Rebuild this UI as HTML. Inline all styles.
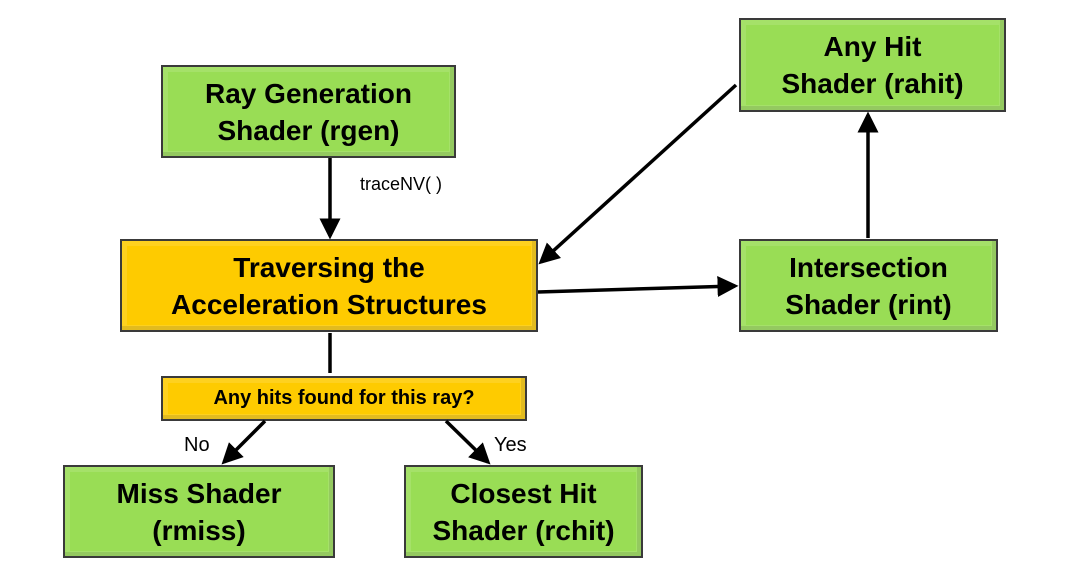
<!DOCTYPE html>
<html><head><style>
body{margin:0;width:1080px;height:574px;background:#fff;position:relative;overflow:hidden;font-family:"Liberation Sans",sans-serif}
.b{position:absolute;box-sizing:border-box;border:2px solid #3a3a3a;display:flex;align-items:center;justify-content:center;text-align:center;font-weight:bold;color:#000;font-size:28px;line-height:37px;box-shadow:inset 0 0 0 5px rgba(255,255,255,0.12),inset -4px -4px 0 rgba(0,0,0,0.12)}
.g{background:#99dd55}
.y{background:#fecb00}
.l{position:absolute;font-size:20px;color:#000}
</style></head><body>
<div class="b g" style="left:161px;top:65px;width:295px;height:93px">Ray Generation<br>Shader (rgen)</div>
<div class="b y" style="left:120px;top:239px;width:418px;height:93px">Traversing the<br>Acceleration Structures</div>
<div class="b y" style="left:161px;top:376px;width:366px;height:45px;font-size:20px">Any hits found for this ray?</div>
<div class="b g" style="left:63px;top:465px;width:272px;height:93px">Miss Shader<br>(rmiss)</div>
<div class="b g" style="left:404px;top:465px;width:239px;height:93px">Closest Hit<br>Shader (rchit)</div>
<div class="b g" style="left:739px;top:18px;width:267px;height:94px">Any Hit<br>Shader (rahit)</div>
<div class="b g" style="left:739px;top:239px;width:259px;height:93px">Intersection<br>Shader (rint)</div>
<div class="l" style="left:360px;top:174px;font-size:18px">traceNV( )</div>
<div class="l" style="left:184px;top:434px">No</div>
<div class="l" style="left:494px;top:434px">Yes</div>
<svg width="1080" height="574" style="position:absolute;left:0;top:0">
<defs><marker id="a" markerWidth="6" markerHeight="6" refX="5" refY="3" orient="auto" markerUnits="strokeWidth"><path d="M0,0L6,3L0,6z" fill="#000"/></marker></defs>
<g stroke="#000" stroke-width="3.5" fill="none">
<line x1="330" y1="158" x2="330" y2="236" marker-end="url(#a)"/>
<line x1="330" y1="333" x2="330" y2="373"/>
<line x1="265" y1="421" x2="224" y2="462" marker-end="url(#a)"/>
<line x1="446" y1="421" x2="488" y2="462" marker-end="url(#a)"/>
<line x1="538" y1="292" x2="735" y2="286" marker-end="url(#a)"/>
<line x1="868" y1="238" x2="868" y2="115" marker-end="url(#a)"/>
<line x1="736" y1="85" x2="541" y2="262" marker-end="url(#a)"/>
</g></svg>
</body></html>
